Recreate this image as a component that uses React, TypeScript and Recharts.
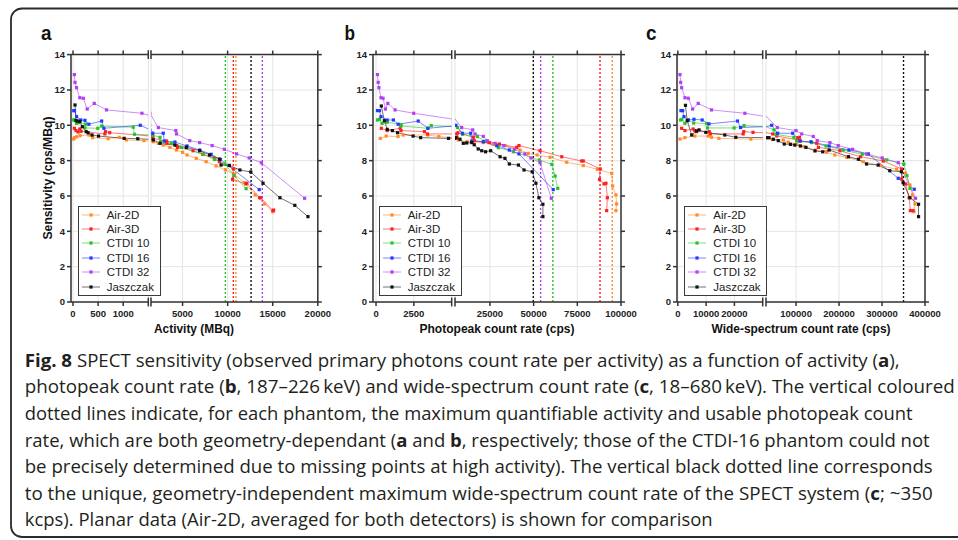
import React from "react";
import { LineChart, Line, XAxis, YAxis, CartesianGrid, ReferenceLine, Legend } from "recharts";

const FONT = "'Liberation Sans', Arial, Helvetica, sans-serif";
const CAPTION_FONT = "'Open Sans', 'Noto Sans', sans-serif";

const seriesNames = ["Air-2D", "Air-3D", "CTDI 10", "CTDI 16", "CTDI 32", "Jaszczak"];
const seriesColors = ["#ff8b2b", "#ff1f1f", "#27c227", "#1e3bff", "#b040f2", "#111111"];
const yTicks = [0, 2, 4, 6, 8, 10, 12, 14];

// (a) sensitivity vs activity (MBq)
const aTicksLeft = [0, 500, 1000];
const aTicksRight = [5000, 10000, 15000, 20000];
const aAir2D = [[13, 9.22], [30, 9.3], [71, 9.35], [140, 9.41], [315, 9.45], [392, 9.3], [700, 9.24], [923, 9.32], [1065, 9.17], [1415, 9.13], [1760, 9.07], [2300, 8.98], [2860, 8.88], [3600, 8.75], [4320, 8.6], [5000, 8.47], [5500, 8.32], [6520, 8.13], [7620, 7.94], [8720, 7.7], [9750, 7.47], [10740, 7.23], [11840, 6.75], [13050, 6.06], [14100, 5.55], [15020, 5.11]];
const aAir3D = [[27, 9.83], [58, 9.7], [100, 9.62], [135, 9.79], [160, 9.66], [635, 9.51], [648, 9.64], [731, 9.58], [1690, 9.36], [1700, 9.26], [3225, 9.11], [3250, 8.98], [4350, 8.85], [4450, 8.75], [6160, 8.56], [7260, 8.36], [8540, 8.13], [9090, 7.94], [10630, 7.53], [10550, 6.94], [12020, 6.68], [12130, 6.72], [13550, 5.9], [13680, 5.9], [15020, 5.17], [15100, 5.2]];
const aCtdi10 = [[13, 10.3], [30, 10.31], [71, 10.11], [100, 10.2], [130, 10.15], [250, 10.07], [238, 9.85], [494, 9.83], [571, 9.96], [1200, 9.89], [1225, 9.49], [1690, 9.43], [2500, 9.32], [2570, 9.07], [3770, 8.98], [4870, 8.75], [7260, 8.36], [8540, 8.07], [9710, 7.81], [10700, 7.16], [12050, 6.41]];
const aCtdi16 = [[15, 10.83], [30, 10.83], [71, 10.49], [154, 10.3], [238, 10.28], [315, 10.06], [571, 10.24], [615, 9.83], [1340, 10.0], [1690, 9.55], [2860, 9.55], [2970, 9.11], [4150, 9.05], [5500, 8.83], [6900, 8.6], [8170, 8.36], [9200, 8.06], [13500, 6.36]];
const aCtdi32 = [[27, 12.87], [40, 12.43], [70, 12.13], [135, 11.56], [205, 11.53], [283, 10.92], [423, 11.24], [667, 10.87], [1373, 10.68], [2313, 9.87], [4258, 9.7], [4325, 9.51], [5796, 9.13], [6896, 9.02], [8280, 8.85], [9640, 8.64], [10995, 8.38], [12390, 8.15], [13740, 7.88], [18540, 5.87]];
const aJasz = [[40, 11.15], [60, 10.26], [90, 10.24], [135, 10.21], [186, 9.92], [263, 9.64], [300, 9.58], [379, 9.45], [508, 9.39], [1020, 9.26], [1290, 9.24], [1760, 9.17], [2500, 8.98], [4150, 8.88], [5420, 8.75], [6900, 8.56], [8000, 8.32], [9090, 8.09], [9270, 7.75], [10190, 7.73], [11360, 7.47], [12570, 7.36], [13930, 6.72], [15800, 5.9], [17450, 5.47], [18910, 4.83]];
const aLimitX = [9750, 10630, 10920, 12600, 13850];
const aLimitSeries = ["CTDI 10", "Air-3D", "Air-2D", "Jaszczak", "CTDI 32"];

// (b) sensitivity vs photopeak count rate (cps)
const bTicksLeft = [0, 2500];
const bTicksRight = [25000, 50000, 75000, 100000];
const bAir2D = [[280, 9.26], [670, 9.39], [1450, 9.36], [1800, 9.45], [3420, 9.45], [4150, 9.36], [6900, 9.17], [12000, 9.07], [21200, 9.02], [27000, 8.92], [33600, 8.85], [42200, 8.6], [46900, 8.41], [52000, 8.32], [59400, 8.19], [68900, 7.91], [78400, 7.72], [86400, 7.51], [94700, 7.28], [95200, 6.57], [97100, 6.06], [97500, 5.55], [97100, 5.17]];
const bAir3D = [[349, 9.83], [738, 9.7], [1600, 9.83], [1650, 9.7], [3200, 9.64], [3400, 9.51], [6000, 9.51], [6300, 9.28], [6700, 9.58], [15500, 9.32], [16000, 9.13], [24600, 9.02], [30400, 8.94], [40300, 8.75], [41600, 8.85], [53650, 8.56], [66100, 8.22], [77500, 7.98], [78400, 7.98], [88100, 7.53], [87700, 6.94], [90300, 6.68], [91400, 6.72], [92200, 5.9], [91800, 5.17]];
const bCtdi10 = [[96, 10.3], [230, 10.34], [396, 10.11], [600, 10.19], [738, 10.17], [1650, 10.04], [1650, 9.96], [3420, 9.83], [3650, 9.98], [6500, 9.87], [9400, 9.49], [17800, 9.36], [22000, 9.1], [29800, 8.73], [38400, 8.5], [53300, 8.04], [60400, 7.79], [62300, 7.13], [63800, 6.43]];
const bCtdi16 = [[96, 10.83], [230, 10.83], [328, 10.49], [738, 10.3], [1148, 10.3], [1463, 10.06], [2790, 10.24], [3425, 9.83], [5570, 10.0], [9180, 9.55], [14000, 9.55], [14560, 9.11], [21200, 9.07], [28900, 8.85], [36100, 8.6], [41600, 8.38], [61200, 6.36]];
const bCtdi32 = [[96, 12.87], [143, 12.43], [190, 12.13], [328, 11.56], [465, 11.53], [622, 10.92], [780, 11.24], [1258, 10.87], [2490, 10.68], [8830, 9.87], [15130, 9.74], [16450, 9.51], [21200, 9.37], [23500, 9.13], [28000, 8.98], [33000, 8.85], [39000, 8.64], [45000, 8.38], [48500, 8.15], [53650, 7.88], [60100, 5.87]];
const bJasz = [[350, 11.09], [550, 10.26], [740, 9.77], [1080, 9.7], [1420, 9.58], [2450, 9.39], [2950, 9.3], [4790, 9.26], [5570, 9.3], [7860, 9.21], [9750, 8.98], [11700, 9.0], [14600, 9.02], [16000, 8.9], [18300, 8.66], [20300, 8.56], [22500, 8.5], [25400, 8.56], [30800, 8.22], [33600, 8.13], [36100, 7.81], [41300, 7.75], [44500, 7.47], [49200, 7.37], [51300, 6.72], [53000, 5.9], [55300, 5.53], [55300, 4.83]];
const bLimitX = [49800, 54000, 61000, 88000, 95000];
const bLimitSeries = ["Jaszczak", "CTDI 32", "CTDI 10", "Air-3D", "Air-2D"];

// (c) sensitivity vs wide-spectrum count rate (cps)
const cTicksLeft = [0, 10000, 20000];
const cTicksRight = [100000, 200000, 300000, 400000];
const cAir2D = [[760, 9.22], [2500, 9.3], [6000, 9.39], [10700, 9.39], [11900, 9.32], [14500, 9.26], [25800, 9.22], [45000, 9.2], [70200, 9.17], [81900, 9.04], [101400, 8.92], [118400, 8.79], [145000, 8.6], [171000, 8.47], [190000, 8.32], [217700, 8.19], [256300, 7.94], [296700, 7.72], [333900, 7.51], [354900, 7.29], [365000, 6.62], [371000, 6.06], [376500, 5.55], [374000, 5.11]];
const cAir3D = [[1350, 9.83], [2500, 9.7], [5400, 9.79], [6000, 9.7], [6600, 9.64], [11100, 9.64], [11500, 9.51], [23100, 9.51], [23300, 9.64], [26600, 9.6], [45600, 9.51], [55000, 9.4], [102800, 9.17], [104000, 9.3], [108000, 9.32], [110000, 9.11], [148000, 8.98], [152000, 8.75], [202000, 8.56], [250000, 8.22], [302800, 7.98], [345600, 7.53], [345600, 6.96], [355000, 6.68], [363000, 5.9], [366000, 5.17], [372000, 5.17]];
const cCtdi10 = [[1000, 10.3], [1400, 10.33], [2500, 10.11], [3700, 10.3], [5600, 10.13], [10200, 10.1], [10500, 9.85], [19900, 9.85], [23400, 9.98], [48600, 9.74], [53000, 9.49], [95000, 9.32], [101400, 9.11], [136300, 9.02], [169500, 8.83], [209800, 8.6], [254000, 8.36], [311000, 8.04], [351000, 7.81], [358000, 7.15], [365000, 6.43]];
const cCtdi16 = [[1100, 10.83], [1700, 10.83], [2170, 10.49], [3700, 10.3], [5700, 10.34], [8600, 10.3], [11000, 10.08], [21100, 10.24], [22200, 9.87], [43200, 10.0], [57200, 9.55], [92100, 9.55], [109000, 9.11], [134700, 9.07], [177000, 8.83], [223000, 8.6], [268000, 8.38], [337700, 7.0], [375000, 6.38]];
const cCtdi32 = [[760, 12.87], [1000, 12.43], [1350, 12.13], [2520, 11.56], [3700, 11.53], [5230, 10.92], [7200, 11.24], [11900, 10.87], [23700, 10.68], [56300, 9.87], [99800, 9.7], [113000, 9.51], [140000, 9.37], [149300, 9.13], [178800, 9.02], [198000, 8.85], [231600, 8.64], [264000, 8.38], [300500, 8.15], [337700, 7.88], [378000, 5.87]];
const cJasz = [[2700, 11.13], [3300, 10.26], [4900, 9.45], [6600, 9.68], [7500, 9.74], [9900, 9.6], [16600, 9.45], [20500, 9.32], [31600, 9.3], [37000, 9.3], [47000, 9.21], [58600, 9.13], [72500, 8.94], [87000, 8.92], [97000, 8.88], [110000, 8.83], [123000, 8.75], [144000, 8.55], [162000, 8.5], [177000, 8.6], [222000, 8.22], [245000, 8.08], [264000, 7.81], [291000, 7.75], [318000, 7.43], [345000, 7.37], [349000, 6.75], [365000, 5.9], [385000, 5.53], [385000, 4.83]];
const cLimitX = [350000];
const cLimitSeries = ["Jaszczak"];

const PLOT_TOP = 54.6;
const PLOT_BOTTOM = 302;
const CH = 345;
const TOP_H = 6;
const XA_H = 30;

const panels = [
  {
    letter: "a", letterX: 41, title: "Activity (MBq)", titleX: 194, titleLen: 80, legendX: 77.7,
    series: [aAir2D, aAir3D, aCtdi10, aCtdi16, aCtdi32, aJasz],
    left: { x0: 71, x1: 148.3, domain: [-40, 1500], ticks: aTicksLeft },
    right: { x0: 150.7, x1: 317.5, domain: [1500, 20000], ticks: aTicksRight },
    limitX: aLimitX, limitSeries: aLimitSeries,
  },
  {
    letter: "b", letterX: 344.5, title: "Photopeak count rate (cps)", titleX: 497, titleLen: 155, legendX: 378.7,
    series: [bAir2D, bAir3D, bCtdi10, bCtdi16, bCtdi32, bJasz],
    left: { x0: 373.3, x1: 452, domain: [-200, 5000], ticks: bTicksLeft },
    right: { x0: 455, x1: 621, domain: [5000, 100000], ticks: bTicksRight },
    limitX: bLimitX, limitSeries: bLimitSeries,
  },
  {
    letter: "c", letterX: 646, title: "Wide-spectrum count rate (cps)", titleX: 801, titleLen: 179, legendX: 684.3,
    series: [cAir2D, cAir3D, cCtdi10, cCtdi16, cCtdi32, cJasz],
    left: { x0: 677.3, x1: 763, domain: [-300, 30000], ticks: cTicksLeft },
    right: { x0: 766, x1: 925, domain: [30000, 400000], ticks: cTicksRight },
    limitX: cLimitX, limitSeries: cLimitSeries,
  },
];

const toPoints = (arr: number[][]) => arr.map(([x, y]) => ({ x, y }));
const colorOf = (name: string) => seriesColors[seriesNames.indexOf(name)];

const squareDot = (color: string) => (p: any) => (
  <rect key={`d-${p.index}`} x={p.cx - 1.6} y={p.cy - 1.6} width={3.2} height={3.2} fill={color} />
);

function LegendBox({ payload }: { payload?: any[] }) {
  const items = payload && payload.length ? payload.map((e) => ({ name: e.value, color: e.color })) : seriesNames.map((n, i) => ({ name: n, color: seriesColors[i] }));
  return (
    <div style={{ width: 83, height: 90, boxSizing: "border-box", border: "1.3px solid #3a3a3a", background: "#fff", paddingTop: 0.5, fontFamily: FONT, fontSize: 11.5, color: "#222" }}>
      {items.map((it) => (
        <div key={it.name} style={{ height: 14.4, display: "flex", alignItems: "center" }}>
          <svg width={28} height={14} style={{ flex: "none" }}>
            <line x1={3} x2={21} y1={7} y2={7} stroke={it.color} strokeOpacity={0.6} strokeWidth={1} />
            <rect x={10.4} y={5.4} width={3.2} height={3.2} fill={it.color} />
          </svg>
          <span style={{ whiteSpace: "nowrap" }}>{it.name}</span>
        </div>
      ))}
    </div>
  );
}

function Segment({ panel, side }: { panel: any; side: "left" | "right" }) {
  const seg = panel[side];
  const isLeft = side === "left";
  const padL = isLeft ? 60 : 4;
  const padR = isLeft ? 4 : 32;
  const yW = isLeft ? 26 : 8;
  const left = seg.x0 - padL;
  const width = seg.x1 - seg.x0 + padL + padR;
  const breakX = isLeft ? seg.domain[1] : seg.domain[0];
  const tickStyle = { fill: "#222", fontSize: 9.5, fontWeight: 700, fontFamily: FONT };
  const axisStroke = { stroke: "#333", strokeWidth: 1.5 };
  return (
    <div style={{ position: "absolute", left, top: 0, zIndex: isLeft ? 2 : 1 }}>
      <LineChart
        width={width}
        height={CH}
        margin={{
          top: PLOT_TOP - TOP_H,
          bottom: CH - PLOT_BOTTOM - XA_H,
          left: isLeft ? padL - yW : padL,
          right: isLeft ? padR : padR - yW,
        }}
      >
        <CartesianGrid xAxisId="bottom" yAxisId="y" stroke="#e4e4e4" strokeWidth={1} />
        <XAxis xAxisId="bottom" dataKey="x" type="number" domain={seg.domain} ticks={seg.ticks} allowDataOverflow interval={0}
          height={XA_H} tickSize={4} tickMargin={4} tick={tickStyle} axisLine={axisStroke} tickLine={axisStroke} />
        <XAxis xAxisId="top" orientation="top" dataKey="x" type="number" domain={seg.domain} ticks={seg.ticks} allowDataOverflow interval={0}
          height={TOP_H} tickSize={4} tickFormatter={() => ""} axisLine={axisStroke} tickLine={axisStroke} />
        <YAxis yAxisId="y" orientation={isLeft ? "left" : "right"} type="number" domain={[0, 14]} ticks={yTicks} interval={0}
          width={yW} tickSize={4} tickMargin={2} tick={tickStyle} tickFormatter={isLeft ? undefined : () => ""}
          axisLine={axisStroke} tickLine={axisStroke} />
        {panel.limitX.map((v: number, i: number) => (
          <ReferenceLine key={`lim-${i}`} xAxisId="bottom" yAxisId="y" x={v} stroke={colorOf(panel.limitSeries[i])}
            strokeDasharray="2 2" strokeWidth={1.4} />
        ))}
        <ReferenceLine xAxisId="bottom" yAxisId="y" segment={[{ x: breakX, y: -0.25 }, { x: breakX, y: 0.25 }]}
          stroke="#333" strokeWidth={1.5} ifOverflow="visible" />
        <ReferenceLine xAxisId="bottom" yAxisId="y" segment={[{ x: breakX, y: 13.75 }, { x: breakX, y: 14.25 }]}
          stroke="#333" strokeWidth={1.5} ifOverflow="visible" />
        {panel.series.map((arr: number[][], i: number) => (
          <Line
            key={seriesNames[i]}
            xAxisId="bottom"
            yAxisId="y"
            data={toPoints(arr)}
            dataKey="y"
            name={seriesNames[i]}
            stroke={seriesColors[i]}
            strokeOpacity={0.6}
            strokeWidth={1}
            dot={squareDot(seriesColors[i])}
            activeDot={false}
            isAnimationActive={false}
          />
        ))}
        {isLeft && (
          <Legend
            layout="vertical"
            align="center"
            verticalAlign="middle"
            wrapperStyle={{ left: panel.legendX - left, top: 206, width: 83 }}
            content={(p: any) => <LegendBox payload={p.payload} />}
          />
        )}
      </LineChart>
    </div>
  );
}

const B = true;
const N = false;
const captionLines: [string, boolean][][] = [
  [["Fig. 8", B], [" SPECT sensitivity (observed primary photons count rate per activity) as a function of activity (", N], ["a", B], ["),", N]],
  [["photopeak count rate (", N], ["b", B], [", 187\u2013226\u2009keV) and wide-spectrum count rate (", N], ["c", B], [", 18\u2013680\u2009keV). The vertical coloured", N]],
  [["dotted lines indicate, for each phantom, the maximum quantifiable activity and usable photopeak count", N]],
  [["rate, which are both geometry-dependant (", N], ["a", B], [" and ", N], ["b", B], [", respectively; those of the CTDI-16 phantom could not", N]],
  [["be precisely determined due to missing points at high activity). The vertical black dotted line corresponds", N]],
  [["to the unique, geometry-independent maximum wide-spectrum count rate of the SPECT system (", N], ["c", B], ["; ~350", N]],
  [["kcps). Planar data (Air-2D, averaged for both detectors) is shown for comparison", N]],
];
const captionLengths = [875, 930, 888, 905, 908, 908, 688];

export default function App() {
  return (
    <div style={{ position: "absolute", left: 0, top: 0, width: 958, height: 540, background: "#fff", overflow: "hidden" }}>
      <svg width={958} height={540} style={{ position: "absolute", left: 0, top: 0 }}>
        <rect x={11} y={8.5} width={1000} height={528.5} rx={11} fill="none" stroke="#2b2b2b" strokeWidth={1.8} />
        {panels.map((p) => (
          <text key={`L${p.letter}`} x={p.letterX} y={40} fontFamily={FONT} fontWeight={700} fontSize={21} fill="#111"
            textLength={10.5} lengthAdjust="spacingAndGlyphs">{p.letter}</text>
        ))}
        {panels.map((p) => (
          <text key={`T${p.letter}`} x={p.titleX} y={333} textAnchor="middle" fontFamily={FONT} fontWeight={700} fontSize={13}
            fill="#111" textLength={p.titleLen} lengthAdjust="spacingAndGlyphs">{p.title}</text>
        ))}
        <text transform="translate(52,178) rotate(-90)" textAnchor="middle" fontFamily={FONT} fontWeight={700} fontSize={13}
          fill="#111" textLength={123} lengthAdjust="spacingAndGlyphs">Sensitivity (cps/MBq)</text>
        {captionLines.map((line, i) => (
          <text key={`C${i}`} x={24.7} y={366.7 + i * 26.6} fontFamily={CAPTION_FONT} fontSize={17.5} fill="#231f20"
            textLength={captionLengths[i]} lengthAdjust="spacingAndGlyphs" style={{ whiteSpace: "pre" }}>
            {line.map(([t, bold], j) => (
              <tspan key={j} fontWeight={bold ? 700 : 400}>{t}</tspan>
            ))}
          </text>
        ))}
      </svg>
      {panels.map((p) => (
        <React.Fragment key={p.letter}>
          <Segment panel={p} side="left" />
          <Segment panel={p} side="right" />
        </React.Fragment>
      ))}
    </div>
  );
}
